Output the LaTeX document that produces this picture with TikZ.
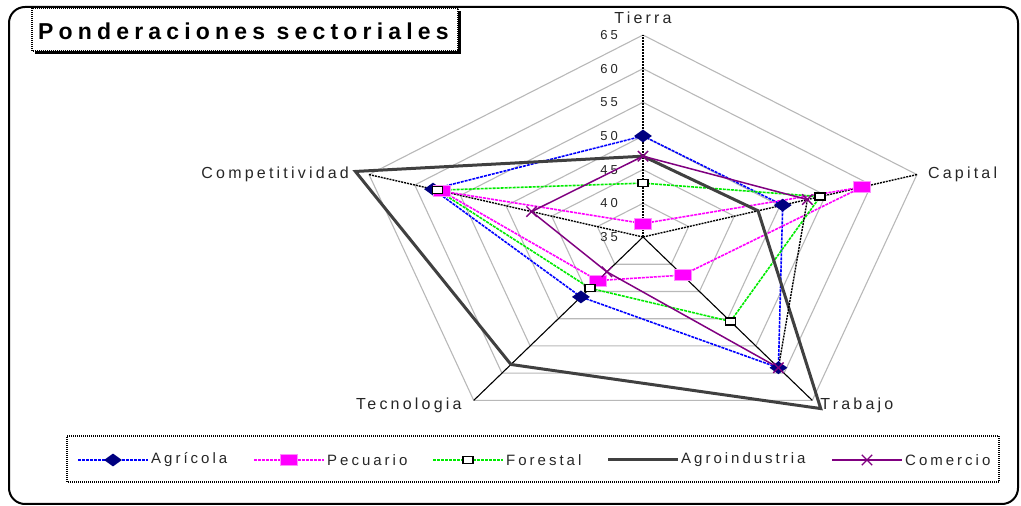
\documentclass[tikz,border=0pt]{standalone}
\usepackage{fontspec}
\setmainfont{Liberation Sans}
\newfontfamily\titlefont[LetterSpace=22.5]{Liberation Sans}
\newfontfamily\labelfont[LetterSpace=20]{Liberation Sans}
\newfontfamily\tickfont[LetterSpace=22]{Liberation Sans}
\usepackage{tikz}
\usetikzlibrary{shapes.geometric, shapes.misc, positioning}
\definecolor{agrblue}{RGB}{0,0,255}
\definecolor{agrnavy}{RGB}{0,0,128}
\definecolor{pecmag}{RGB}{255,0,255}
\definecolor{forgreen}{RGB}{0,235,0}
\definecolor{agrogray}{RGB}{64,64,64}
\definecolor{compurple}{RGB}{128,0,128}
\tikzset{
grid line/.style={black!28, line width=1.1pt}, % the pentagons
axis dashed/.style={black, line width=1.4pt, dash pattern=on 2pt off 1pt},
axis solid/.style={black, line width=1.1pt},
agrline/.style={agrblue, line width=1.6pt, dash pattern=on 3pt off 1pt},
pecline/.style={pecmag, line width=1.6pt, dash pattern=on 3pt off 1pt},
forline/.style={forgreen, line width=1.6pt, dash pattern=on 3pt off 1pt},
agroline/.style={agrogray, line width=3pt},
comline/.style={compurple, line width=1.5pt},
agrmark/.style={diamond, fill=agrnavy, inner sep=0pt, minimum width=18pt, minimum height=13pt},
pecmark/.style={rectangle, fill=pecmag, draw=pecmag!45, line width=1pt, inner sep=0pt, minimum width=17pt, minimum height=11pt},
formark/.style={rectangle, fill=white, draw=black, line width=1.4pt, inner sep=0pt, minimum width=10pt, minimum height=7pt},
commark/.style={cross out, draw=compurple, line width=1.4pt, inner sep=0pt, minimum size=9pt},
nomark/.style={inner sep=0pt, minimum size=0pt},
axlabel/.style={inner sep=0pt, font=\labelfont\fontsize{16}{19}\selectfont, text=black!85},
tick/.style={inner sep=0pt, font=\tickfont\fontsize{13}{15}\selectfont, text=black!85},
leglabel/.style={inner sep=0pt, font=\labelfont\fontsize{15}{18}\selectfont, text=black!85},
}
\begin{document}
\begin{tikzpicture}[x=1pt, y=1pt]
\useasboundingbox (0,0) rectangle (1021,506);
% outer frame
\draw[line width=2pt, rounded corners=16pt] (9,2) rectangle (1018,499);

% title with shadow
\fill[black] (35,452) rectangle (461,495);
\draw[fill=white, line width=1.3pt, dash pattern=on 1pt off 1pt] (32,455) rectangle (458,498);
\node[anchor=base west, inner sep=0pt, font=\titlefont\bfseries\fontsize{23}{26}\selectfont] (title) at (38,466) {Ponderaciones sectoriales};

\begin{scope}[shift={(643,269)}, x=9.6pt, y=6.733pt]
  \coordinate (o) at (0,0);
  % grid
  \foreach \r in {5,10,...,30}
    \draw[grid line] (90:\r) -- (18:\r) -- (-54:\r) -- (-126:\r) -- (162:\r) -- cycle;
  % axes
  \foreach \ax/\a in {tie/90, cap/18, tra/-54, tec/-126, com/162}
    \coordinate (\ax) at (\a:30);
  \draw[axis dashed] (o) -- (tie);
  \draw[axis dashed] (o) -- (cap);
  \draw[axis dashed] (o) -- (com);
  \draw[axis solid] (o) -- (tra);
  \draw[axis solid] (o) -- (tec);
  % scale
  \foreach \v in {35,40,...,65}
    \node[tick, anchor=east] (t\v) at ([xshift=-25pt]90:{\v-35}) {\v};
  % axis names
  \node[axlabel, anchor=base] (ltie) at ([yshift=12pt]tie) {Tierra};
  \node[axlabel, anchor=west] (lcap) at ([xshift=11pt]cap) {Capital};
  \node[axlabel, anchor=west] (ltra) at ([xshift=8pt, yshift=-5pt]tra) {Trabajo};
  \node[axlabel, anchor=east] (ltec) at ([xshift=-12pt, yshift=-5pt]tec) {Tecnologia};
  \node[axlabel, anchor=east] (lcom) at ([xshift=-20pt]com) {Competitividad};

  % data points
  \foreach \ax/\a/\v in {tie/90/50, cap/18/50.3, tra/-54/59, tec/-126/46, com/162/58}
    \coordinate (agr-\ax) at (\a:{\v-35});
  \foreach \ax/\a/\v in {tie/90/37, cap/18/59, tra/-54/42, tec/-126/43, com/162/57}
    \coordinate (pec-\ax) at (\a:{\v-35});
  \foreach \ax/\a/\v in {tie/90/43, cap/18/54.4, tra/-54/50.5, tec/-126/44.4, com/162/57.5}
    \coordinate (for-\ax) at (\a:{\v-35});
  \foreach \ax/\a/\v in {tie/90/47, cap/18/47.6, tra/-54/66.5, tec/-126/58.4, com/162/66.5}
    \coordinate (agro-\ax) at (\a:{\v-35});
  \foreach \ax/\a/\v in {tie/90/47, cap/18/53, tra/-54/59, tec/-126/41.4, com/162/47.2}
    \coordinate (co-\ax) at (\a:{\v-35});

  % series
  \draw[agrline] (agr-tie) -- (agr-cap) -- (agr-tra) -- (agr-tec) -- (agr-com) -- cycle;
  \draw[pecline] (pec-tie) -- (pec-cap) -- (pec-tra) -- (pec-tec) -- (pec-com) -- cycle;
  \draw[forline] (for-tie) -- (for-cap) -- (for-tra) -- (for-tec) -- (for-com) -- cycle;
  \draw[agroline] (agro-tie) -- (agro-cap) -- (agro-tra) -- (agro-tec) -- (agro-com) -- cycle;
  \draw[comline] (co-tra) -- (co-tec) -- (co-com) -- (co-tie) -- (co-cap);
  \draw[axis dashed] (co-cap) -- (co-tra);

  % markers
  \foreach \ax in {tie,cap,tra,tec,com} {
    \node[agrmark] (agrm-\ax) at (agr-\ax) {};
    \node[pecmark] (pecm-\ax) at (pec-\ax) {};
    \node[formark] (form-\ax) at (for-\ax) {};
    \node[commark] (com-\ax) at (co-\ax) {};
  }
\end{scope}

% legend
\draw[line width=1.3pt, dash pattern=on 1pt off 1pt] (67,24) rectangle (999,70);
\foreach \i/\xa/\ln/\mk/\txt in {1/78/agrline/agrmark/Agrícola, 2/254/pecline/pecmark/Pecuario,
    3/433/forline/formark/Forestal, 4/608/agroline/nomark/Agroindustria, 5/832/comline/commark/Comercio} {
  \coordinate (lega\i) at (\xa,46);
  \coordinate (legb\i) at (\xa+70,46);
  \draw[\ln] (lega\i) -- (legb\i);
  \node[\mk] (legm\i) at (\xa+35,46) {};
  \node[leglabel, anchor=west] (legt\i) at ([xshift=3pt]legb\i) {\txt};
}
\end{tikzpicture}
\end{document}
